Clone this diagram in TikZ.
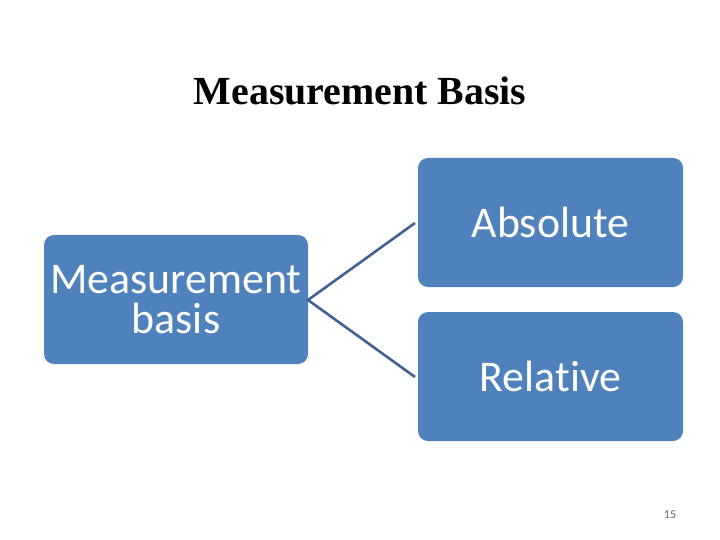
\documentclass[tikz,border=0pt]{standalone}
\usepackage{fontspec}
\setmainfont[Ligatures=NoCommon,Contextuals=NoAlternate]{Carlito}
\newfontfamily\titlefont{Liberation Serif}
\begin{document}
\begin{tikzpicture}[x=1bp,y=-1bp,
  boxstyle/.style={draw=none,fill=boxblue,rounded corners=10bp,text=white,
    font=\fontsize{44}{40}\selectfont,align=center,inner sep=0pt},
  conn/.style={draw=lineblue,line width=2.6bp}]
\definecolor{boxblue}{RGB}{79,129,189}
\definecolor{lineblue}{RGB}{65,98,146}
\useasboundingbox (0,0) rectangle (720,540);
\node[font=\titlefont\bfseries\fontsize{40}{44}\selectfont,anchor=base] (title) at (360,105) {Measurement Basis};
\path[boxstyle] (44,235) rectangle (308,364);
\path[boxstyle] (418,158) rectangle (683,287);
\path[boxstyle] (418,312) rectangle (683,441);
\node[boxstyle,fill=none,minimum width=264bp,minimum height=129bp] (mb) at (176,299.5) {Measurement\\basis};
\node[boxstyle,fill=none,minimum width=265bp,minimum height=129bp] (abs) at (550.5,222.5) {Absolute};
\node[boxstyle,fill=none,minimum width=265bp,minimum height=129bp] (rel) at (550.5,376.5) {Relat\kern0pt ive};
\coordinate (j) at (308,300);
\coordinate (ea) at (415,223);
\coordinate (er) at (415,377);
\draw[conn] (ea) -- (j) -- (er);
\node[text=black!60,font=\fontsize{12}{14}\selectfont] (pg) at (670,515) {15};
\end{tikzpicture}
\end{document}
